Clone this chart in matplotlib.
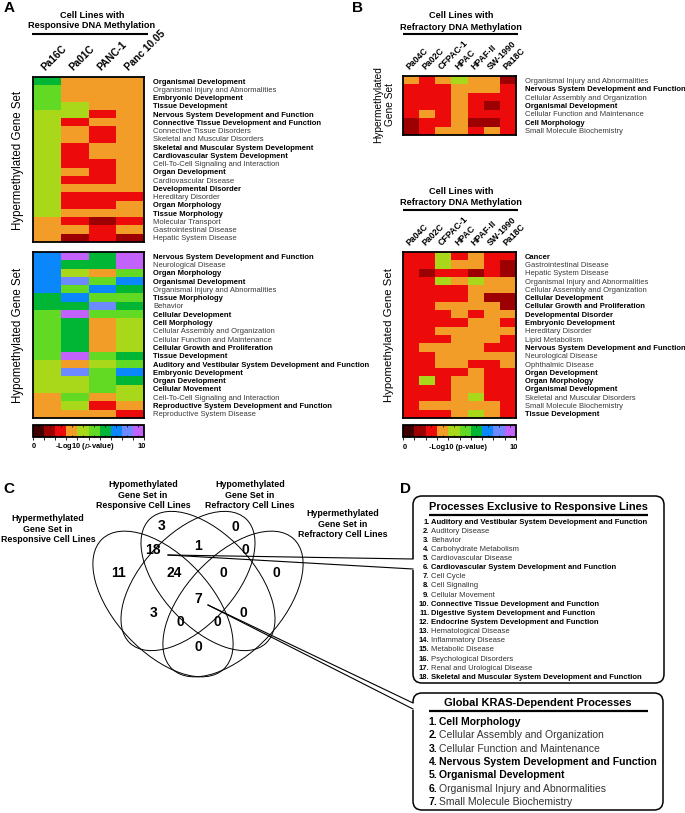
import numpy as np
import matplotlib
matplotlib.use("Agg")
import matplotlib.pyplot as plt
from matplotlib.colors import ListedColormap, BoundaryNorm
from matplotlib.patches import Ellipse, FancyBboxPatch
from matplotlib.cm import ScalarMappable

plt.rcParams['font.family'] = ['Liberation Sans', 'DejaVu Sans']

W, H = 685, 813

# ---------------- data ----------------
responsive_lines = ["Pa16C", "Pa01C", "PANC-1", "Panc 10.05"]
refractory_lines = ["Pa04C", "Pa02C", "CFPAC-1", "HPAC", "HPAF-II", "SW-1990", "Pa18C"]

a_hyper_terms = [
    "Organismal Development", "Organismal Injury and Abnormalities", "Embryonic Development",
    "Tissue Development", "Nervous System Development and Function",
    "Connective Tissue Development and Function", "Connective Tissue Disorders",
    "Skeletal and Muscular Disorders", "Skeletal and Muscular System Development",
    "Cardiovascular System Development", "Cell-To-Cell Signaling and Interaction",
    "Organ Development", "Cardiovascular Disease", "Developmental Disorder",
    "Hereditary Disorder", "Organ Morphology", "Tissue Morphology", "Molecular Transport",
    "Gastrointestinal Disease", "Hepatic System Disease"]
a_hyper_logp = [
    [6, 3, 3, 3], [5, 3, 3, 3], [5, 3, 3, 3], [5, 4, 3, 3], [4, 4, 2, 3],
    [4, 2, 3, 3], [4, 3, 2, 3], [4, 3, 2, 3], [4, 2, 3, 3], [4, 2, 3, 3],
    [4, 2, 2, 3], [4, 3, 2, 3], [4, 2, 2, 3], [4, 3, 3, 3], [4, 2, 2, 2],
    [4, 2, 2, 3], [4, 3, 3, 3], [3, 2, 1, 2], [3, 3, 2, 3], [3, 1, 2, 1]]

a_hypo_terms = [
    "Nervous System Development and Function", "Neurological Disease", "Organ Morphology",
    "Organismal Development", "Organismal Injury and Abnormalities", "Tissue Morphology",
    "Behavior", "Cellular Development", "Cell Morphology", "Cellular Assembly and Organization",
    "Cellular Function and Maintenance", "Cellular Growth and Proliferation", "Tissue Development",
    "Auditory and Vestibular System Development and Function", "Embryonic Development",
    "Organ Development", "Cellular Movement", "Cell-To-Cell Signaling and Interaction",
    "Reproductive System Development and Function", "Reproductive System Disease"]
a_hypo_logp = [
    [7, 9, 6, 9], [7, 6, 6, 9], [7, 4, 3, 5], [7, 8, 5, 7], [7, 5, 7, 6],
    [6, 7, 5, 5], [6, 6, 8, 6], [5, 9, 5, 5], [5, 6, 3, 4], [5, 6, 3, 4],
    [5, 6, 3, 4], [5, 6, 3, 4], [5, 9, 5, 6], [4, 3, 4, 5], [4, 8, 5, 7],
    [4, 4, 5, 6], [4, 4, 5, 4], [3, 5, 3, 4], [3, 4, 2, 3], [3, 3, 3, 2]]

b_hyper_terms = [
    "Organismal Injury and Abnormalities", "Nervous System Development and Function",
    "Cellular Assembly and Organization", "Organismal Development",
    "Cellular Function and Maintenance", "Cell Morphology", "Small Molecule Biochemistry"]
b_hyper_logp = [
    [3, 2, 3, 4, 3, 3, 1], [2, 2, 2, 3, 3, 3, 2], [2, 2, 2, 3, 2, 2, 2],
    [2, 2, 2, 3, 2, 1, 2], [2, 3, 2, 3, 2, 2, 2], [1, 2, 2, 3, 1, 1, 2],
    [1, 2, 3, 3, 2, 3, 2]]

b_hypo_terms = [
    "Cancer", "Gastrointestinal Disease", "Hepatic System Disease",
    "Organismal Injury and Abnormalities", "Cellular Assembly and Organization",
    "Cellular Development", "Cellular Growth and Proliferation", "Developmental Disorder",
    "Embryonic Development", "Hereditary Disorder", "Lipid Metabolism",
    "Nervous System Development and Function", "Neurological Disease", "Ophthalmic Disease",
    "Organ Development", "Organ Morphology", "Organismal Development",
    "Skeletal and Muscular Disorders", "Small Molecule Biochemistry", "Tissue Development"]
b_hypo_logp = [
    [2, 2, 4, 2, 3, 2, 2], [2, 2, 4, 3, 3, 2, 1], [2, 1, 2, 2, 1, 2, 1],
    [2, 2, 4, 3, 4, 3, 3], [2, 2, 2, 2, 3, 3, 3], [2, 2, 2, 2, 3, 1, 1],
    [2, 2, 3, 3, 3, 3, 1], [2, 2, 2, 3, 2, 3, 3], [2, 2, 2, 2, 3, 3, 2],
    [2, 2, 3, 3, 3, 3, 3], [2, 2, 2, 3, 3, 3, 2], [2, 3, 3, 3, 3, 2, 2],
    [2, 2, 3, 3, 3, 3, 3], [2, 2, 3, 3, 2, 2, 3], [2, 2, 2, 2, 3, 2, 2],
    [2, 4, 2, 3, 3, 2, 2], [2, 2, 2, 3, 3, 2, 2], [2, 2, 2, 3, 4, 2, 2],
    [2, 3, 3, 3, 3, 3, 2], [2, 2, 2, 3, 4, 3, 2]]

bold_terms = {
    "Organismal Development", "Embryonic Development", "Tissue Development",
    "Nervous System Development and Function", "Connective Tissue Development and Function",
    "Skeletal and Muscular System Development", "Cardiovascular System Development",
    "Organ Development", "Developmental Disorder", "Organ Morphology", "Tissue Morphology",
    "Cellular Development", "Cell Morphology", "Cellular Growth and Proliferation",
    "Auditory and Vestibular System Development and Function", "Cellular Movement",
    "Reproductive System Development and Function", "Cancer"}

venn_set_names = ["Hypermethylated\nGene Set in\nResponsive Cell Lines",
                  "Hypomethylated\nGene Set in\nResponsive Cell Lines",
                  "Hypomethylated\nGene Set in\nRefractory Cell Lines",
                  "Hypermethylated\nGene Set in\nRefractory Cell Lines"]
venn_regions = ["B", "C", "AB", "BC", "CD", "A", "ABC", "BCD", "D", "ABCD", "AC", "BD", "ACD", "ABD", "AD"]
venn_counts = [3, 0, 18, 1, 0, 11, 24, 0, 0, 7, 3, 0, 0, 0, 0]

exclusive_processes = [
    "Auditory and Vestibular System Development and Function", "Auditory Disease", "Behavior",
    "Carbohydrate Metabolism", "Cardiovascular Disease",
    "Cardiovascular System Development and Function", "Cell Cycle", "Cell Signaling",
    "Cellular Movement", "Connective Tissue Development and Function",
    "Digestive System Development and Function", "Endocrine System Development and Function",
    "Hematological Disease", "Inflammatory Disease", "Metabolic Disease",
    "Psychological Disorders", "Renal and Urological Disease",
    "Skeletal and Muscular System Development and Function"]
exclusive_bold = [1, 0, 0, 0, 0, 1, 0, 0, 0, 1, 1, 1, 0, 0, 0, 0, 0, 1]

global_processes = [
    "Cell Morphology", "Cellular Assembly and Organization", "Cellular Function and Maintenance",
    "Nervous System Development and Function", "Organismal Development",
    "Organismal Injury and Abnormalities", "Small Molecule Biochemistry"]
global_bold = [1, 0, 0, 1, 1, 0, 0]

scale_colors = ['#3e0000', '#9c0000', '#ec0a0a', '#f19d28', '#a9d71a',
                '#62d922', '#00b634', '#0a87fb', '#6c89ff', '#c262fb']

# ---------------- figure ----------------
cmap = ListedColormap(scale_colors)
norm = BoundaryNorm(np.arange(0, 11), cmap.N)

fig = plt.figure(figsize=(W / 100, H / 100), dpi=100)
ax0 = fig.add_axes([0, 0, 1, 1])
ax0.set_xlim(0, W)
ax0.set_ylim(H, 0)
ax0.axis('off')


def px_axes(x0, y0, x1, y1):
    return fig.add_axes([x0 / W, 1 - y1 / H, (x1 - x0) / W, (y1 - y0) / H])


def draw_heat(box, vals, rows, cols=None, col_fs=7.3):
    ax = px_axes(*box)
    v = np.array(vals, dtype=float)
    nr, nc = v.shape
    ax.pcolormesh(np.arange(nc + 1), np.arange(nr + 1), v, cmap=cmap, norm=norm)
    ax.set_xlim(0, nc)
    ax.set_ylim(nr, 0)
    ax.yaxis.tick_right()
    ax.set_yticks(np.arange(nr) + 0.5)
    ax.set_yticklabels(rows, fontsize=5.5)
    for t in ax.get_yticklabels():
        if t.get_text() in bold_terms:
            t.set_fontweight('bold')
            t.set_color('black')
        else:
            t.set_color('#3a3a3a')
    ax.xaxis.tick_top()
    if cols:
        ax.set_xticks(np.arange(nc) + 0.5)
        ax.set_xticklabels(cols, rotation=45, ha='left', va='bottom',
                           rotation_mode='anchor', fontsize=col_fs, fontweight='bold')
    else:
        ax.set_xticks([])
    ax.tick_params(axis='both', length=0)
    ax.tick_params(axis='y', pad=6.5)
    ax.tick_params(axis='x', pad=3)
    for s in ax.spines.values():
        s.set_linewidth(1.3)
    return ax


def draw_cbar(box, xl, xc, xr, y, italic=True):
    cax = px_axes(*box)
    cb = fig.colorbar(ScalarMappable(norm=norm, cmap=cmap), cax=cax, orientation='horizontal')
    cb.set_ticks(np.arange(0.5, 10, 1))
    cax.tick_params(axis='x', direction='in', length=1.5, width=0.5, top=True, bottom=True,
                    labelbottom=False, labeltop=False)
    cb.outline.set_linewidth(1.3)
    ax0.text(xl, y, "0", ha='center', va='center', fontsize=5.4, fontweight='bold')
    ax0.text(xr, y, "10", ha='center', va='center', fontsize=5.4, fontweight='bold')
    if italic:
        lab = r"-Log10 ($\bf{\it{p}}$-value)"
    else:
        lab = "-Log10 (p-value)"
    ax0.text(xc, y, lab, ha='center', va='center', fontsize=5.4, fontweight='bold')


def title_block(xc, y1, text2, xa, xb, yl):
    ax0.text(xc, y1, "Cell Lines with", ha='center', va='center', fontsize=6.6, fontweight='bold')
    ax0.text(xc, y1 + 11, text2, ha='center', va='center', fontsize=6.6, fontweight='bold')
    ax0.plot([xa, xb], [yl, yl], color='black', lw=1.5, solid_capstyle='butt')


# panel letters
for lbl, x, y in [("A", 9, 8), ("B", 358, 8), ("C", 9, 489), ("D", 406, 489)]:
    ax0.text(x, y, lbl, ha='center', va='center', fontsize=11, fontweight='bold')

# panel A
title_block(92, 15, "Responsive DNA Methylation", 32, 148, 34)
draw_heat((33, 77, 144, 242), a_hyper_logp, a_hyper_terms, responsive_lines, 7.3)
draw_heat((33, 252, 144, 418), a_hypo_logp, a_hypo_terms)
draw_cbar((33, 425, 144, 437), 34, 85, 142, 446, italic=True)
ax0.text(18, 160, "Hypermethylated Gene Set", rotation=90, ha='center', va='center', fontsize=8.3)
ax0.text(18, 335, "Hypomethylated Gene Set", rotation=90, ha='center', va='center', fontsize=8.3)

# panel B
title_block(461, 16, "Refractory DNA Methylation", 403, 518, 34)
draw_heat((403, 76, 516, 135), b_hyper_logp, b_hyper_terms, refractory_lines, 6.3)
title_block(461, 191, "Refractory DNA Methylation", 403, 518, 210)
draw_heat((403, 252, 516, 418), b_hypo_logp, b_hypo_terms, refractory_lines, 6.3)
draw_cbar((403, 425, 516, 437), 405, 458, 514, 447, italic=False)
ax0.text(384, 105, "Hypermethylated\nGene Set", rotation=90, ha='center', va='center',
         fontsize=7.3, multialignment='center')
ax0.text(389, 335, "Hypomethylated Gene Set", rotation=90, ha='center', va='center', fontsize=8.2)

# panel C: Venn
ellipses = [((163, 604), 178, 96, 47), ((208, 581), 170, 92, 47),
            ((188, 581), 170, 92, -47), ((233, 604), 178, 96, -47)]
for (c, w, h, ang) in ellipses:
    ax0.add_patch(Ellipse(c, w, h, angle=ang, fill=False, lw=0.7, ec='black'))

set_label_pos = [(48, 529), (143, 495), (250, 495), (343, 524)]
for name, (x, y) in zip(venn_set_names, set_label_pos):
    ax0.text(x, y, name, ha='center', va='center', fontsize=6.4, fontweight='bold',
             multialignment='center', linespacing=1.15)

region_pos = {"B": (162, 526), "C": (235, 527), "AB": (153, 550), "BC": (198, 546),
              "CD": (245, 550), "A": (119, 573), "ABC": (174, 573), "BCD": (223, 573),
              "D": (276, 573), "ABCD": (198, 599), "AC": (154, 613), "BD": (243, 613),
              "ACD": (180, 622), "ABD": (217, 622), "AD": (198, 647)}
for reg, cnt in zip(venn_regions, venn_counts):
    x, y = region_pos[reg]
    ax0.text(x, y, str(cnt), ha='center', va='center', fontsize=10, fontweight='bold')

# panel D: call-out boxes
def callout(x0, y0, x1, y1, g0, g1, src):
    ax0.add_patch(FancyBboxPatch((x0, y0), x1 - x0, y1 - y0,
                                 boxstyle="round,pad=0,rounding_size=9",
                                 fc='white', ec='black', lw=1.1, zorder=2))
    ax0.plot([x0, x0], [g0 + 0.6, g1 - 0.6], color='white', lw=2.2, zorder=3)
    ax0.plot([src[0], x0], [src[1], g0], color='black', lw=0.8, zorder=3)
    ax0.plot([src[0], x0], [src[1], g1], color='black', lw=0.8, zorder=3)

callout(413, 496, 664, 683, 559, 569, (168, 555))
callout(413, 693, 663, 810, 703, 709, (208, 605))

ax0.text(538, 507, "Processes Exclusive to Responsive Lines", ha='center', va='center',
         fontsize=7.9, fontweight='bold', zorder=4)
ax0.plot([429, 648], [515, 515], color='black', lw=1.6, zorder=4, solid_capstyle='butt')
for i, (name, b) in enumerate(zip(exclusive_processes, exclusive_bold)):
    y = 522 + 9.14 * i
    ax0.text(429.5, y, f"{i + 1}.", ha='right', va='center', fontsize=5.5, fontweight='bold', zorder=4)
    ax0.text(431.5, y, name, ha='left', va='center', fontsize=5.5,
             fontweight='bold' if b else 'normal', color='black' if b else '#333333', zorder=4)

ax0.text(538, 703, "Global KRAS-Dependent Processes", ha='center', va='center',
         fontsize=7.9, fontweight='bold', zorder=4)
ax0.plot([429, 648], [711, 711], color='black', lw=1.6, zorder=4, solid_capstyle='butt')
for i, (name, b) in enumerate(zip(global_processes, global_bold)):
    y = 722 + 13.33 * i
    ax0.text(437.5, y, f"{i + 1}.", ha='right', va='center', fontsize=7.5, fontweight='bold', zorder=4)
    ax0.text(439.5, y, name, ha='left', va='center', fontsize=7.5,
             fontweight='bold' if b else 'normal', color='black' if b else '#333333', zorder=4)

fig.savefig("out.png", dpi=100)
